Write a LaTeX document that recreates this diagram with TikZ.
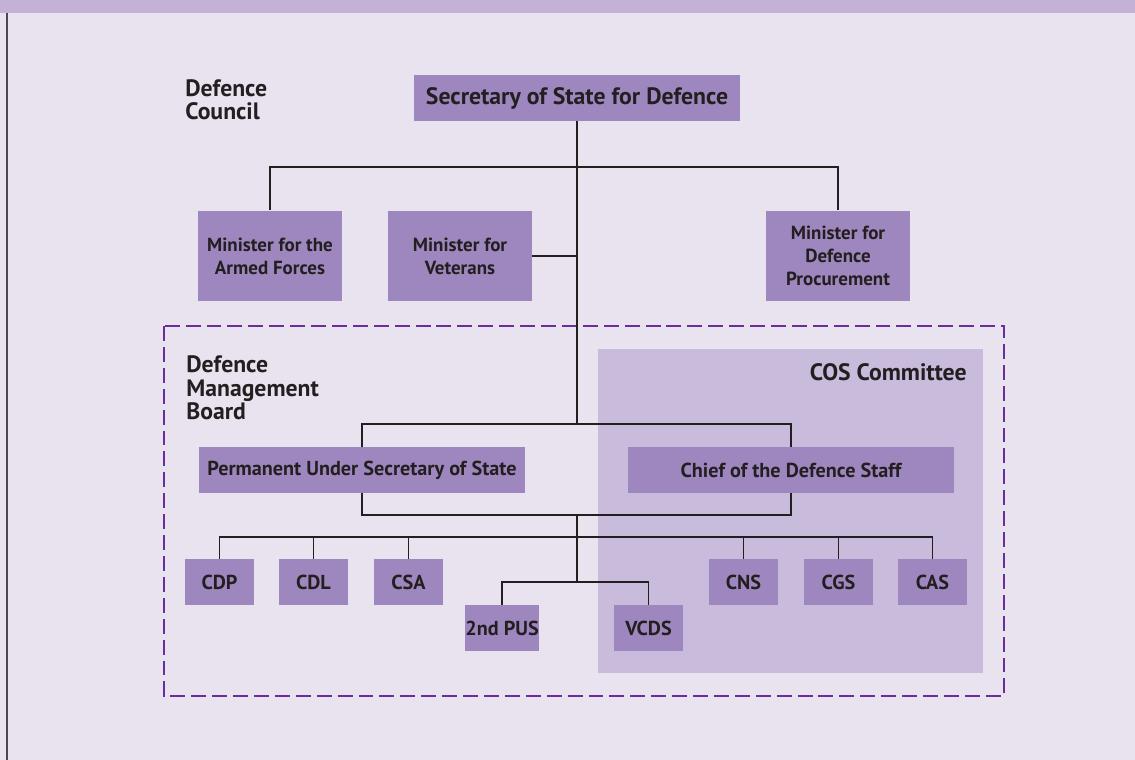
\documentclass[tikz,border=0pt]{standalone}
\usepackage{fontspec}
\setmainfont{PT Sans}
\usepackage{tikz}
\usetikzlibrary{arrows,shapes}
\usetikzlibrary{positioning,fit}
\definecolor{bgfill}{HTML}{E9E3F0}
\definecolor{bandfill}{HTML}{C6B1D6}
\definecolor{postfill}{HTML}{9E87BE}
\definecolor{cosfill}{HTML}{C9BBDB}
\definecolor{boardline}{HTML}{6B2D9B}
\definecolor{ink}{HTML}{231F20}
\definecolor{rule}{HTML}{4A4A4C}
\tikzstyle{post} =
  [rectangle, fill=postfill, text=ink, align=center, inner sep=0pt,
   minimum height=0.92cm, font=\bfseries\fontsize{11.5}{13}\selectfont]
\tikzstyle{widepost} = [post, minimum width=6.52cm]
\tikzstyle{minister} =
  [post, minimum width=2.88cm, minimum height=1.82cm,
   font=\bfseries\fontsize{10.8}{13}\selectfont]
\tikzstyle{small} = [post, minimum width=1.38cm]
\tikzstyle{label} =
  [text=ink, align=left, inner sep=0pt,
   font=\bfseries\fontsize{13.5}{13.3}\selectfont]
\tikzstyle{link}=[draw=ink,line width=0.6pt]
\tikzstyle{board}=[draw=boardline,line width=1.2pt,dash pattern=on 8.5pt off 3.4pt]

\begin{document}
\begin{tikzpicture}[x=0.02cm, y=-0.02cm, node distance=1.9cm]
  \useasboundingbox (0,0) rectangle (1135,760);
  % background and frame
  \fill [bgfill] (0,0) rectangle (1135,760);
  \fill [bandfill] (0,0) rectangle (1135,13);
  \draw [rule, line width=1.1pt] (7,13) -- (7,760);
  \fill [cosfill] (598,349) rectangle (983,673);
  \draw [board] (164,326) rectangle (1004,696);

  \node [label, anchor=west] (dc) at (185,100) {Defence\\Council};
  \node [label, anchor=west] (dmb) at (186,388) {Defence\\Management\\Board};
  \node [label, anchor=east] (cos) at (967,372) {COS Committee};

  % ministers
  \node [widepost, font=\bfseries\fontsize{13.5}{15}\selectfont] (sos) at (577,98) {Secretary of State for Defence};
  \node [minister] (maf) at (270,256) {Minister for the\\Armed Forces};
  \node [minister] (mvet) at (460,256) {Minister for\\Veterans};
  \node [minister] (mdp) at (838,256) {Minister for\\Defence\\Procurement};

  % board
  \node [widepost] (pus) at (362,470) {Permanent Under Secretary of State};
  \node [widepost] (cds) at (791,470) {Chief of the Defence Staff};
  \node [small] (cdp) at (219.5,582) {CDP};
  \node [small, right of=cdp, node distance=1.88cm] (cdl) {CDL};
  \node [small, right of=cdl] (csa) {CSA};
  \node [small, minimum width=1.48cm] (pus2) at (502,628) {2nd PUS};
  \node [small] (vcds) at (648.5,628) {VCDS};
  \node [small] (cns) at (743.5,582) {CNS};
  \node [small, right of=cns] (cgs) {CGS};
  \node [small, right of=cgs, node distance=1.88cm] (cas) {CAS};

  \coordinate (j1) at (577,167);
  \coordinate (j2) at (577,424);
  \coordinate (j3) at (577,515);
  \coordinate (j4) at (577,582);
  \coordinate (j5) at (577,537);

  \draw [link] (maf.north) |- (j1) -| (mdp.north);
  \draw [link] (sos.south) -- (j2);
  \draw [link] (mvet.east) -- (mvet.east -| j1);
  \draw [link] (pus.north) |- (j2) -| (cds.north);
  \draw [link] (pus.south) |- (j3) -| (cds.south);
  \draw [link] (j3) -- (j4);
  \draw [link] (cdp.north) |- (j5) -| (cas.north);
  \foreach \n in {cdl,csa,cns,cgs}
    \draw [link] (\n.north) -- (\n.north |- j5);
  \draw [link] (pus2.north) |- (j4) -| (vcds.north);

\end{tikzpicture}
\end{document}
